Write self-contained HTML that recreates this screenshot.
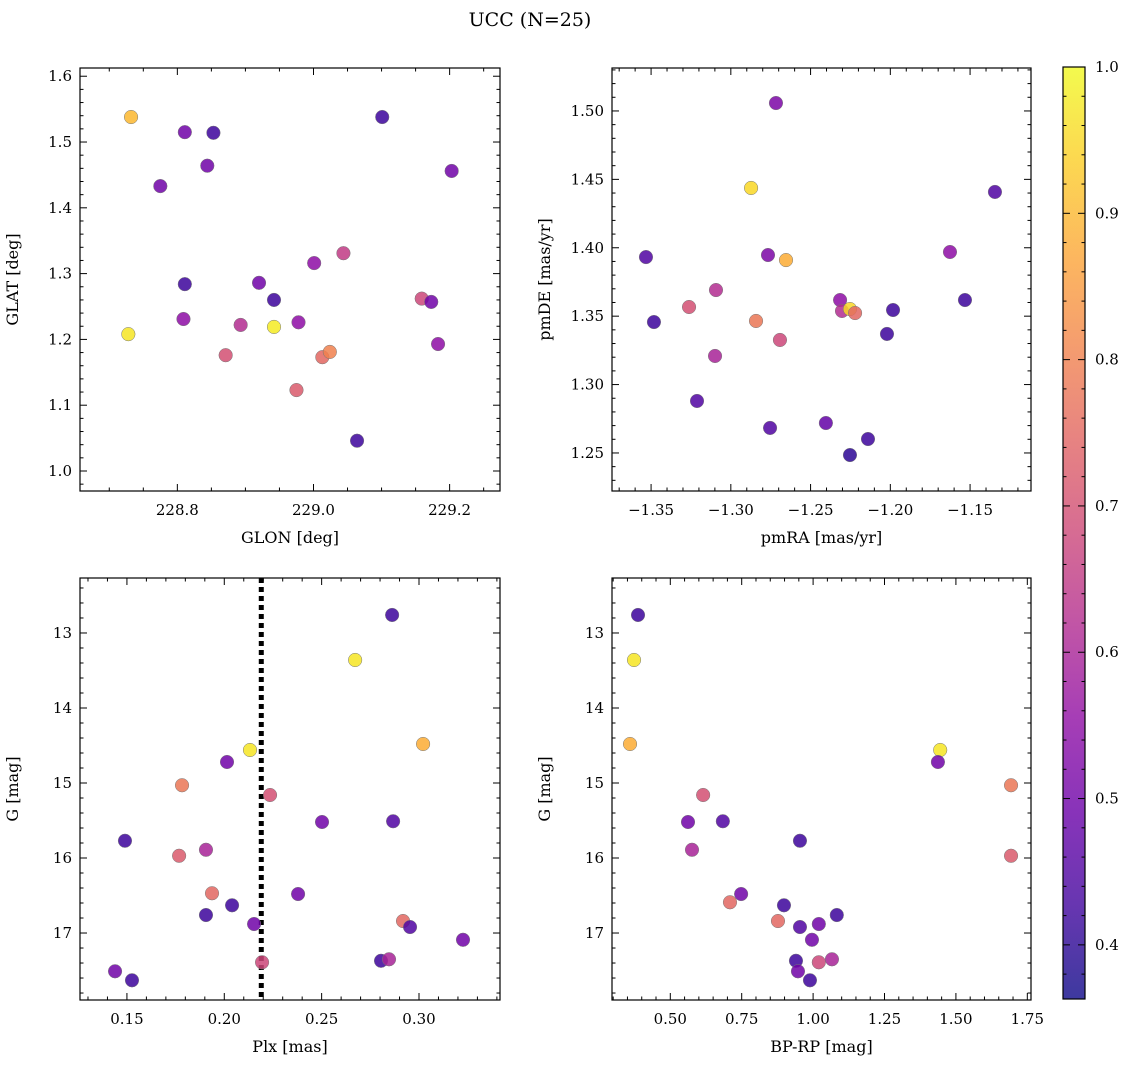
<!DOCTYPE html>
<html><head><meta charset="utf-8">
<style>
html,body{margin:0;padding:0;background:#fff;}
svg{display:block;font-family:"DejaVu Serif","Liberation Serif",serif;}
</style></head>
<body>
<svg id="fig" width="1136" height="1067" viewBox="0 0 1136 1067" xmlns="http://www.w3.org/2000/svg">
<text x="530" y="26" text-anchor="middle" font-size="19">UCC (N=25)</text>
</svg>
<script>
// Panel 1: GLON / GLAT
const glon=[228.732,228.811,228.853,229.101,228.844,228.775,229.203,229.001,229.044,228.811,228.920,228.942,229.159,229.173,228.728,228.809,228.893,228.942,228.978,228.871,229.013,229.024,229.183,228.975,229.064];
const glat=[1.538,1.515,1.514,1.538,1.464,1.433,1.456,1.316,1.331,1.284,1.286,1.260,1.262,1.257,1.208,1.231,1.222,1.219,1.226,1.176,1.173,1.181,1.193,1.123,1.046];
const prob1=[0.9,0.5,0.42,0.42,0.5,0.5,0.5,0.55,0.65,0.42,0.5,0.42,0.68,0.5,0.97,0.55,0.62,0.98,0.55,0.7,0.75,0.8,0.55,0.72,0.42];
// Panel 2: pmRA / pmDE
const pmra=[-1.2717,-1.2873,-1.3532,-1.2767,-1.2654,-1.1344,-1.1626,-1.1532,-1.3093,-1.3262,-1.3482,-1.2842,-1.2315,-1.2303,-1.2253,-1.2221,-1.1983,-1.2021,-1.2692,-1.3099,-1.3212,-1.2754,-1.2404,-1.2140,-1.2253];
const pmde=[1.5058,1.4437,1.3932,1.3947,1.3910,1.4408,1.3969,1.3618,1.3691,1.3567,1.3457,1.3465,1.3618,1.3538,1.3552,1.3523,1.3545,1.3370,1.3326,1.3209,1.2880,1.2683,1.2719,1.2602,1.2485];
const prob2=[0.52,0.95,0.45,0.52,0.88,0.45,0.55,0.42,0.62,0.7,0.42,0.78,0.55,0.62,0.95,0.75,0.42,0.42,0.68,0.6,0.45,0.45,0.48,0.42,0.4];
// Panel 3: Plx / G
const plx=[0.2862,0.2672,0.3021,0.2132,0.2014,0.1783,0.2235,0.2502,0.2867,0.1490,0.1906,0.1768,0.2379,0.1937,0.2040,0.1906,0.2153,0.2918,0.2954,0.3226,0.2194,0.2805,0.2846,0.1439,0.1526];
const gmag3=[12.76,13.36,14.48,14.56,14.72,15.03,15.16,15.52,15.51,15.77,15.89,15.97,16.48,16.47,16.63,16.76,16.88,16.84,16.92,17.09,17.39,17.37,17.35,17.51,17.63];
const prob3=[0.42,0.97,0.88,0.97,0.5,0.78,0.7,0.5,0.45,0.42,0.6,0.72,0.5,0.75,0.42,0.42,0.5,0.75,0.45,0.5,0.68,0.42,0.6,0.5,0.42];
const plxLine=0.219;
// Panel 4: BP-RP / G
const bprp=[0.387,0.373,0.359,1.445,1.437,1.693,0.615,0.562,0.684,0.954,0.576,1.693,0.748,0.709,0.898,1.083,1.020,0.877,0.954,0.996,1.020,0.940,1.066,0.947,0.989];
const gmag4=[12.76,13.36,14.48,14.56,14.72,15.03,15.16,15.52,15.51,15.77,15.89,15.97,16.48,16.59,16.63,16.76,16.88,16.84,16.92,17.09,17.39,17.37,17.35,17.51,17.63];
const prob4=[0.42,0.97,0.88,0.97,0.5,0.78,0.7,0.5,0.45,0.42,0.6,0.72,0.5,0.75,0.42,0.42,0.5,0.75,0.45,0.5,0.68,0.42,0.6,0.5,0.42];
const cbTicks=[0.4,0.5,0.6,0.7,0.8,0.9,1.0];

const NS="http://www.w3.org/2000/svg";
const svg=document.getElementById('fig');
const plasma=["#0d0887","#41049d","#6a00a8","#8f0da4","#b12a90","#cc4778","#e16462","#f2844b","#fca636","#fcce25","#f0f921"];
const CMIN=0.363,CMAX=1.0;
function hex(h){return [1,3,5].map(i=>parseInt(h.substr(i,2),16));}
function cmap(v){let t=(v-CMIN)/(CMAX-CMIN);t=Math.max(0,Math.min(1,t));const f=t*10;const i=Math.min(9,Math.floor(f));const r=f-i;const a=hex(plasma[i]),b=hex(plasma[i+1]);return 'rgb('+a.map((x,k)=>Math.round(x+(b[k]-x)*r)).join(',')+')';}
function el(tag,attrs,parent){const e=document.createElementNS(NS,tag);for(const k in attrs)e.setAttribute(k,attrs[k]);(parent||svg).appendChild(e);return e;}
function fmt(v,d){let s=v.toFixed(d);return s.replace('-','\u2212');}

function panel(o){
  const g=el('g',{});
  
  
  const X=v=>o.x0+(v-o.xmin)/(o.xmax-o.xmin)*(o.x1-o.x0);
  const Y=o.invert?(v=>o.y0+(v-o.ymin)/(o.ymax-o.ymin)*(o.y1-o.y0)):(v=>o.y1-(v-o.ymin)/(o.ymax-o.ymin)*(o.y1-o.y0));
  const tg=el('g',{stroke:'#000','stroke-width':1},g);
  function ticks(min,max,step,sub,d,isX,labels){
    const ms=step/sub;
    const start=Math.ceil(min/ms-1e-6);
    for(let k=start;k*ms<=max+1e-9;k++){
      const v=k*ms;const major=Math.abs(v/step-Math.round(v/step))<1e-6;const L=major?7:3.5;
      if(isX){const px=X(v);el('line',{x1:px,x2:px,y1:o.y1,y2:o.y1-L},tg);el('line',{x1:px,x2:px,y1:o.y0,y2:o.y0+L},tg);
        if(major&&labels){const t=el('text',{x:px,y:o.y1+24,'text-anchor':'middle','font-size':15,stroke:'none'},g);t.textContent=fmt(v,d);}}
      else{const py=Y(v);el('line',{y1:py,y2:py,x1:o.x0,x2:o.x0+L},tg);el('line',{y1:py,y2:py,x1:o.x1,x2:o.x1-L},tg);
        if(major&&labels){const t=el('text',{x:o.x0-8,y:py+5,'text-anchor':'end','font-size':15,stroke:'none'},g);t.textContent=fmt(v,d);}}
    }
  }
  ticks(o.xmin,o.xmax,o.xstep,o.xsub,o.xd,true,true);
  ticks(Math.min(o.ymin,o.ymax),Math.max(o.ymin,o.ymax),o.ystep,o.ysub,o.yd,false,true);
  if(o.vline!==undefined){const l=el('line',{x1:X(o.vline),x2:X(o.vline),y1:o.y0,y2:o.y1,stroke:'#000','stroke-width':5,'stroke-dasharray':'5,4'},g);}
  for(let i=0;i<o.xs.length;i++){
    const c=el('circle',{cx:X(o.xs[i]),cy:Y(o.ys[i]),r:6.8,fill:cmap(o.cs[i]),'fill-opacity':0.85,stroke:'#777','stroke-width':0.5},g);
    
    
  }
  const fr=el('rect',{x:o.x0,y:o.y0,width:o.x1-o.x0,height:o.y1-o.y0,fill:'none',stroke:'#000','stroke-width':1.2},g);
  
  const xl=el('text',{x:(o.x0+o.x1)/2,y:o.y1+52,'text-anchor':'middle','font-size':16},g);xl.textContent=o.xlabel;
  
  const yx=o.x0-62,yy=(o.y0+o.y1)/2;
  const yl=el('text',{x:yx,y:yy,'text-anchor':'middle','font-size':16,transform:'rotate(-90 '+yx+' '+yy+')'},g);yl.textContent=o.ylabel;
  
}

panel({name:'glon-glat-panel',x0:80,x1:500,y0:68,y1:491,xmin:228.657,xmax:229.274,ymin:0.9696,ymax:1.6125,xstep:0.2,xsub:4,xd:1,ystep:0.1,ysub:5,yd:1,xs:glon,ys:glat,cs:prob1,xlabel:'GLON [deg]',ylabel:'GLAT [deg]'});
panel({name:'pm-panel',x0:612,x1:1031,y0:68,y1:491,xmin:-1.3745,xmax:-1.1118,ymin:1.2222,ymax:1.5314,xstep:0.05,xsub:5,xd:2,ystep:0.05,ysub:5,yd:2,xs:pmra,ys:pmde,cs:prob2,xlabel:'pmRA [mas/yr]',ylabel:'pmDE [mas/yr]'});
panel({name:'plx-g-panel',x0:80,x1:500,y0:578,y1:1000,xmin:0.1259,xmax:0.3416,ymin:12.267,ymax:17.893,invert:true,xstep:0.05,xsub:5,xd:2,ystep:1,ysub:5,yd:0,xs:plx,ys:gmag3,cs:prob3,vline:plxLine,xlabel:'Plx [mas]',ylabel:'G [mag]'});
panel({name:'cmd-panel',x0:612,x1:1031,y0:578,y1:1000,xmin:0.2959,xmax:1.7629,ymin:12.267,ymax:17.893,invert:true,xstep:0.25,xsub:5,xd:2,ystep:1,ysub:5,yd:0,xs:bprp,ys:gmag4,cs:prob4,xlabel:'BP-RP [mag]',ylabel:'G [mag]'});

const cb=el('g',{});


const cx0=1063,cx1=1085,cy0=67,cy1=999;
const CY=v=>cy1-(v-CMIN)/(CMAX-CMIN)*(cy1-cy0);
const defs=el('defs',{},cb);
const lg=el('linearGradient',{id:'cbg',x1:0,y1:1,x2:0,y2:0},defs);
for(let i=0;i<=10;i++)el('stop',{offset:(i/10),'stop-color':plasma[i]},lg);
el('rect',{x:cx0,y:cy0,width:cx1-cx0,height:cy1-cy0,fill:'url(#cbg)','fill-opacity':0.8},cb);
for(let v=0.38;v<=1.0001;v+=0.02){const py=CY(v);const major=Math.abs(v*10-Math.round(v*10))<1e-6;const L=major?7:3.5;
  el('line',{x1:cx1,x2:cx1-L,y1:py,y2:py,stroke:'#000'},cb);el('line',{x1:cx0,x2:cx0+L,y1:py,y2:py,stroke:'#000'},cb);}
for(let i=0;i<cbTicks.length;i++){const t=el('text',{x:cx1+10,y:CY(cbTicks[i])+5,'font-size':15},cb);t.textContent=cbTicks[i].toFixed(1);
  }
el('rect',{x:cx0,y:cy0,width:cx1-cx0,height:cy1-cy0,fill:'none',stroke:'#000','stroke-width':1.2},cb);
</script>
</body></html>
